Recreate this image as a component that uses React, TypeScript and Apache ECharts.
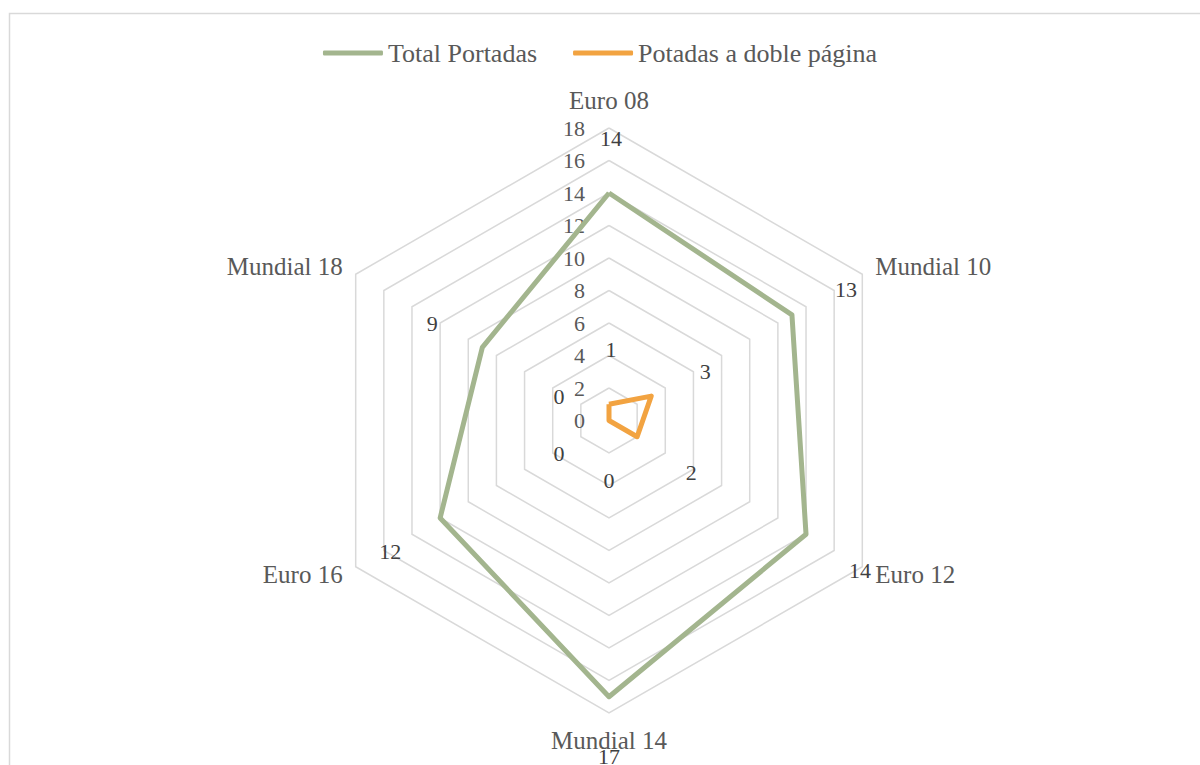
import React, { useEffect, useRef } from "react";
import * as echarts from "echarts";

// Data (clockwise from top, as in the reference)
const categories = ["Euro 08", "Mundial 10", "Euro 12", "Mundial 14", "Euro 16", "Mundial 18"];
const totalPortadas = [14, 13, 14, 17, 12, 9];
const doblePagina = [1, 3, 2, 0, 0, 0];
const seriesNames = ["Total Portadas", "Potadas a doble página"];
const axisMax = 18;
const axisSplits = 9;

// label shift per direction (clockwise order): [dx, dy]
const labelShift = [
  [2, -55],
  [54, -25],
  [54, 36],
  [0, 60],
  [-50, 33],
  [-50, -24],
];

// ECharts radar runs counter-clockwise: map to that order
const ccwOrder = [0, 5, 4, 3, 2, 1];

const FONT = "'Liberation Serif', 'DejaVu Serif', serif";
const GREEN = "#A3B58E";
const ORANGE = "#F2A341";

export default function App() {
  const ref = useRef<HTMLDivElement>(null);

  useEffect(() => {
    if (!ref.current) return;
    const chart = echarts.init(ref.current, undefined, { renderer: "svg" });

    const rich: Record<string, any> = {};
    ccwOrder.forEach((cw, dimIdx) => {
      const [dx, dy] = labelShift[cw];
      rich["d" + dimIdx] = {
        fontFamily: FONT,
        fontSize: 22,
        color: "#404040",
        padding: [
          Math.max(0, 2 * dy),
          Math.max(0, -2 * dx),
          Math.max(0, -2 * dy),
          Math.max(0, 2 * dx),
        ],
      };
    });

    const labelCfg = {
      show: true,
      position: "inside",
      formatter: (p: any) => `{d${p.dimensionIndex}|${p.value}}`,
      rich,
    };

    const indicator = ccwOrder.map((i, k) => {
      const ind: any = { name: categories[i], min: 0, max: axisMax };
      if (k === 0) {
        ind.axisLabel = {
          show: true,
          color: "#595959",
          fontFamily: FONT,
          fontSize: 22,
          margin: 24,
          showMinLabel: true,
        };
      }
      return ind;
    });

    chart.setOption({
      animation: false,
      backgroundColor: "#ffffff",
      graphic: [
        {
          type: "rect",
          shape: { x: 9.5, y: 13.5, width: 1300, height: 900 },
          style: { fill: "none", stroke: "#d9d9d9", lineWidth: 1.5 },
          silent: true,
          z: -10,
        },
      ],
      legend: {
        top: 35,
        left: "center",
        itemWidth: 60,
        itemHeight: 5,
        itemGap: 36,
        icon: "roundRect",
        data: seriesNames,
        textStyle: { fontFamily: FONT, fontSize: 26, color: "#595959" },
      },
      radar: {
        center: [609, 420.5],
        radius: 292.5,
        startAngle: 90,
        splitNumber: axisSplits,
        shape: "polygon",
        axisName: { color: "#595959", fontFamily: FONT, fontSize: 25 },
        nameGap: 15,
        axisLine: { show: false },
        axisTick: { show: false },
        splitLine: { lineStyle: { color: "#d9d9d9", width: 1.5 } },
        splitArea: { show: false },
        indicator,
      },
      series: [
        {
          type: "radar",
          symbol: "circle",
          symbolSize: 1,
          data: [
            {
              name: seriesNames[0],
              value: ccwOrder.map((i) => totalPortadas[i]),
              itemStyle: { color: GREEN },
              lineStyle: { color: GREEN, width: 5 },
              label: labelCfg,
            },
            {
              name: seriesNames[1],
              value: ccwOrder.map((i) => doblePagina[i]),
              itemStyle: { color: ORANGE },
              lineStyle: { color: ORANGE, width: 5 },
              label: labelCfg,
            },
          ],
        },
      ],
    });

    return () => chart.dispose();
  }, []);

  return (
    <div
      ref={ref}
      style={{ position: "fixed", left: 0, top: 0, width: 1200, height: 765 }}
    />
  );
}
